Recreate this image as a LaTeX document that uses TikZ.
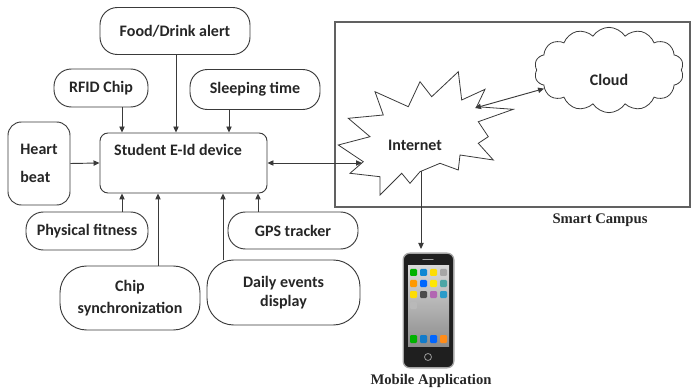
\documentclass[tikz,border=0pt]{standalone}
\usepackage{fontspec}
\setmainfont{Carlito}
\newfontfamily\captionserif{Liberation Serif}
\usetikzlibrary{arrows.meta,shapes.symbols}

\definecolor{edge}{HTML}{3A3A3A}
\definecolor{ink}{HTML}{262626}

\tikzset{
  pill/.style={draw=edge, line width=0.7pt, rounded corners=13pt, align=center,
    inner sep=0pt, text=ink},
  arr/.style={draw=edge, line width=0.7pt, -{Triangle[length=4.5pt,width=4pt]}},
  biarr/.style={draw=edge, line width=0.7pt,
    {Triangle[length=4.5pt,width=4pt]}-{Triangle[length=4.5pt,width=4pt]}},
  caption/.style={font=\captionserif\bfseries\fontsize{11}{13}\selectfont, text=ink},
  icon/.style={rounded corners=0.8pt}
}

\begin{document}
\begin{tikzpicture}[x=0.75pt,y=-0.75pt,
  font=\bfseries\fontsize{12}{14}\selectfont]
\useasboundingbox (0,0) rectangle (693,392);

% ---------------- input modules around the device ----------------
\node[pill, minimum width=112.5pt, minimum height=35.25pt] (food) at (175,31) {Food/Drink alert};
\node[pill, minimum width=70.5pt, minimum height=28.5pt] (rfid) at (101,88) {RFID Chip};
\node[pill, minimum width=97.5pt, minimum height=30pt] (sleep) at (255,89.5) {Sleeping time};
\node[draw=edge, line width=0.7pt, rounded corners=10pt, minimum width=46.5pt,
      minimum height=62.25pt, align=left, text=ink, inner sep=0pt] (heart) at (39,163.5)
      {Heart\\[7pt]beat};
\node[draw=edge, line width=0.7pt, rounded corners=6pt, minimum width=125.25pt,
      minimum height=45pt] (eid) at (183.5,163) {};
\node[text=ink] (eidlabel) at (178,150) {Student E-Id device};
\node[pill, minimum width=91.5pt, minimum height=28.5pt] (phys) at (87,231) {Physical fitness};
\node[pill, minimum width=97.5pt, minimum height=27.75pt] (gps) at (293,230.5) {GPS tracker};
\node[pill, rounded corners=20pt, minimum width=105pt, minimum height=48pt] (chip) at (130,298)
      {Chip\\[2pt]synchronization};
\node[pill, rounded corners=20pt, minimum width=114.75pt, minimum height=48.75pt] (daily) at (283.5,292.5)
      {Daily events\\display};

% x positions where the arrows meet the device
\coordinate (xa) at (122,0);
\coordinate (xb) at (176,0);
\coordinate (xc) at (229,0);
\coordinate (xd) at (158,0);
\coordinate (xe) at (223,0);
\coordinate (xf) at (258,0);

\draw[arr] (rfid.south -| xa) -- (eid.north -| xa);
\draw[arr] (food.south -| xb) -- (eid.north -| xb);
\draw[arr] (sleep.south -| xc) -- (eid.north -| xc);
\draw[arr] (heart.east) -- (eid.west);
\draw[arr] (phys.north -| xa) -- (eid.south -| xa);
\draw[arr] (chip.north -| xd) -- (eid.south -| xd);
\draw[arr] (daily.north -| xe) -- (eid.south -| xe);
\draw[arr] (gps.north -| xf) -- (eid.south -| xf);

% ---------------- smart campus ----------------
\node[draw=edge!80, line width=0.8pt, minimum width=266.25pt, minimum height=138.75pt,
      inner sep=0pt] (campus) at (512.5,114.5) {};
\node[caption] (campuslabel) at (600,220) {Smart Campus};

% internet burst
\draw[draw=edge, line width=0.6pt, fill=white]
  (338.3,145) -- (370,136.7) -- (348.3,118.3) -- (383.3,115) -- (375,91.7)
  -- (408.3,106.7) -- (420,81.7) -- (431.7,96.7) -- (458.3,71.7) -- (461.7,100)
  -- (485,89.3) -- (476.7,106.7) -- (513.3,109.3) -- (478.3,121.7) -- (488.3,136.7)
  -- (478.3,143.3) -- (493.3,160) -- (460,155) -- (458.3,170) -- (440,163.3)
  -- (420,171.7) -- (410,183.3) -- (401.7,173.3) -- (380,195) -- (380,176.7)
  -- (350,173.3) -- (363.3,161.7) -- cycle;
\node[text=ink] (internet) at (415,145) {Internet};
\coordinate (inetW) at (362,163);
\coordinate (inetNE) at (475,108);
\coordinate (inetS) at (421,171);

% cloud
\node[cloud, cloud puffs=14, cloud puff arc=115, aspect=1.75, draw=edge, line width=0.6pt,
      minimum width=112pt, minimum height=64pt] (cloud) at (609,70) {};
\node[text=ink] (cloudlabel) at (609,80) {Cloud};

\draw[biarr] (eid.east |- inetW) -- (inetW);
\draw[biarr] (inetNE) -- (cloud.196);

% ---------------- mobile phone ----------------
\node[draw=gray!70, line width=1pt, fill=black!88, rounded corners=5pt,
      minimum width=38pt, minimum height=86pt, inner sep=0pt] (phone) at (428.5,310.5) {};
\coordinate (phoneTop) at (421,249);
\draw[arr] (inetS) -- (phoneTop);

\fill[top color=black!15, bottom color=black!45] (408,266) rectangle (449,346);
\draw[gray!70, line width=1pt, line cap=round] (423,259.5) -- (433,259.5);
\draw[gray!80, line width=0.6pt] (428,357) circle (3.5);
% app icons
\foreach \c [count=\i from 0] in {green!70!black, cyan!70!blue, yellow!80!orange, gray!70} {
  \fill[icon, \c] (410+\i*10,269) rectangle ++(7,7);}
\foreach \c [count=\i from 0] in {orange!80!yellow, blue!60!cyan, yellow!90!orange, teal!70} {
  \fill[icon, \c] (410+\i*10,280) rectangle ++(7,7);}
\foreach \c [count=\i from 0] in {yellow!80!orange, gray!60!black, violet!60, cyan!60!teal} {
  \fill[icon, \c] (410+\i*10,291) rectangle ++(7,7);}
\fill[icon, gray!55] (410,302) rectangle ++(7,7);
\foreach \c [count=\i from 0] in {green!70!black, cyan!60!blue, blue!60!cyan, orange!90} {
  \fill[icon, \c] (410+\i*10,335) rectangle ++(7,8);}

\node[caption] (mobilelabel) at (431,381) {Mobile Application};
\end{tikzpicture}
\end{document}
